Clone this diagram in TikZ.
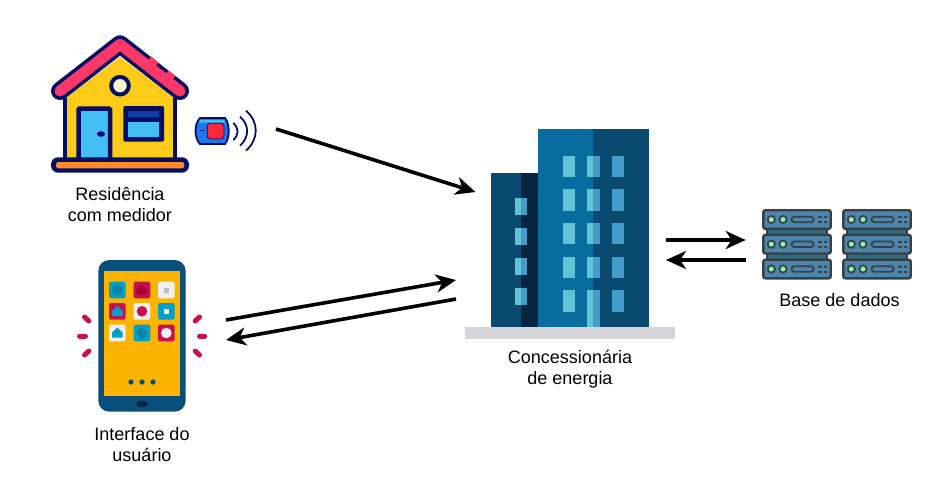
\documentclass[tikz,border=0pt]{standalone}
\usepackage{fontspec}
\setmainfont{Liberation Sans}
\usetikzlibrary{arrows.meta, positioning, calc}
\definecolor{navyline}{RGB}{4,15,100}
\definecolor{roofred}{RGB}{252,56,104}
\definecolor{wallyellow}{RGB}{254,204,24}
\definecolor{skyblue}{RGB}{66,190,245}
\definecolor{deepblue}{RGB}{15,60,165}
\definecolor{creamy}{RGB}{253,247,210}
\definecolor{baseorange}{RGB}{254,138,40}
\definecolor{meterblue}{RGB}{28,120,240}
\definecolor{meterred}{RGB}{250,40,60}
\definecolor{phoneblue}{RGB}{10,79,122}
\definecolor{screenyellow}{RGB}{253,180,0}
\definecolor{appteal}{RGB}{0,160,200}
\definecolor{appdeep}{RGB}{10,130,172}
\definecolor{appred}{RGB}{200,15,80}
\definecolor{appdark}{RGB}{160,5,55}
\definecolor{appwhite}{RGB}{240,240,240}
\definecolor{towerdark}{RGB}{10,74,112}
\definecolor{towerdeep}{RGB}{6,35,63}
\definecolor{towermain}{RGB}{8,109,158}
\definecolor{winlight}{RGB}{98,195,214}
\definecolor{winmid}{RGB}{68,156,203}
\definecolor{groundgrey}{RGB}{213,213,218}
\definecolor{rackblue}{RGB}{74,134,174}
\definecolor{rackdark}{RGB}{46,107,128}
\definecolor{rackline}{RGB}{58,63,68}
\definecolor{ledgreen}{RGB}{134,250,170}
\tikzset{
    caption/.style={align=center,font=\fontsize{18}{21}\selectfont},
    flow/.style={-{Stealth[length=20pt,width=18pt,inset=6pt]},line width=3.6pt,black},
    tick/.style={appred,line width=5pt,line cap=round},
    signal/.style={navyline,line width=1.8pt}
}
\begin{document}
\begin{tikzpicture}[x=1pt,y=-1pt]
    \useasboundingbox (0,0) rectangle (952,491);

    % Casa
    \fill[wallyellow] (63,100) -- (120,57) -- (177,100) -- (177,158) -- (63,158) -- cycle;
    \draw[navyline,line width=4pt] (65,98) -- (65,160) (175,98) -- (175,160);
    \draw[navyline,line width=18pt,line cap=round,line join=round] (60,91) -- (120,44.3) -- (180,91);
    \draw[roofred,line width=11pt,line cap=round,line join=round] (60,91) -- (120,44.3) -- (180,91);
    \draw[roofred,line width=4pt] (150,58) -- (157.3,64) (167.3,72) -- (174,77.5);
    \draw[navyline,line width=4pt,fill=creamy] (120,85.7) circle (8.8);
    \draw[navyline,line width=4.5pt,fill=skyblue,rounded corners=1pt] (78.5,108.5) rectangle (110,160);
    \fill[navyline] (101,134) ellipse (4 and 2.8);
    \fill[navyline,rounded corners=2pt] (123.3,106) rectangle (164,141.7);
    \fill[deepblue] (128.3,111) rectangle (159.3,117);
    \fill[skyblue] (128.3,121.7) rectangle (159.3,137.3);
    \fill[navyline,rounded corners=7pt] (51,157.3) rectangle (189,172.7);
    \fill[baseorange,rounded corners=2.5pt] (56,162) rectangle (184.3,168.3);

    % Medidor
    \draw[navyline,line width=1.8pt,fill=meterblue] (200,118) -- (225,118) .. controls (230,124) and (230,138) .. (225,144) -- (200,144) .. controls (194,138) and (194,124) .. (200,118) -- cycle;
    \fill[skyblue] (200,120) -- (224,120) -- (225,122.5) -- (199,122.5) -- cycle;
    \fill[meterred,rounded corners=3pt,draw=navyline,line width=.8pt] (207.3,123.3) rectangle (224,139);
    \draw[navyline,line width=1.4pt] (200,130.7) -- (204,130.7);
    \draw[signal] (233.3,123) .. controls (239,128) and (239,135) .. (233.3,140);
    \draw[signal] (240,116.7) .. controls (249.5,125) and (249.5,137) .. (240,145.7);
    \draw[signal] (246,110.7) .. controls (259,122) and (259,139) .. (246,150.7);

    % Celular
    \fill[phoneblue,rounded corners=11pt] (98.3,260) rectangle (185.7,411.7);
    \fill[screenyellow] (104,271) rectangle (180,396);
    \fill[phoneblue,rounded corners=1.3pt] (133.3,264) rectangle (146,266.7);
    \fill[phoneblue] (149.3,265.3) circle (1.3);
    \fill[towerdeep,rounded corners=2.5pt] (136.7,401) rectangle (147.3,406.7);
    \foreach \dotx in {131,142,153}
        \fill[phoneblue] (\dotx,382) circle (2.7);
    \foreach \appx/\appy/\appc in {117.3/290/appteal,142/290/appred,166.3/290/appwhite,
                                   117.3/311.3/appred,142/311.3/appwhite,166.3/311.3/appteal,
                                   117.3/333/appwhite,142/333/appteal,166.3/333/appred}
        \fill[\appc,rounded corners=2pt] (\appx-8.3,\appy-8.3) rectangle (\appx+8.3,\appy+8.3);
    \fill[appdeep] (117.3,290) circle (5.5);
    \fill[appdark] (142,284.5) -- (147.3,289.5) -- (147.3,294.5) -- (136.7,294.5) -- (136.7,289.5) -- cycle;
    \fill[lightgray] (163.8,287.5) rectangle (168.8,292.5);
    \fill[appteal] (117.3,305.8) -- (122.6,311) -- (122.6,316) -- (112,316) -- (112,311) -- cycle;
    \fill[appred] (142,311.3) circle (5.3);
    \fill[white] (163.8,308.8) rectangle (168.8,313.8);
    \fill[appteal] (117.3,327.5) -- (122.6,332.5) -- (122.6,337.5) -- (112,337.5) -- (112,332.5) -- cycle;
    \fill[appdeep] (142,333) circle (5.3);
    \fill[appwhite] (166.3,333) circle (5.3);
    \draw[tick] (84.5,317) -- (88.8,321);
    \draw[tick] (79.5,336) -- (85.5,336);
    \draw[tick] (84.5,355) -- (88.8,351);
    \draw[tick] (195.2,321) -- (199.5,317);
    \draw[tick] (199.5,336) -- (204.8,336);
    \draw[tick] (195.2,351) -- (199.5,355);

    % Concessionaria
    \fill[towerdark] (491,173) rectangle (521,326.7);
    \fill[towerdeep] (521,173) rectangle (538,326.7);
    \fill[towermain] (538,129) rectangle (593,326.7);
    \fill[towerdark] (593,129) rectangle (649,326.7);
    \foreach \winy/\winh in {156/21,189.3/21.4,223/21,256.7/21,290.3/21.4} {
        \fill[winlight] (562.7,\winy) rectangle +(12.3,\winh);
        \fill[winlight] (587,\winy) rectangle +(6.3,\winh);
        \fill[winmid] (593.3,\winy) rectangle +(6.4,\winh);
        \fill[winmid] (612,\winy) rectangle +(12,\winh);
    }
    \fill[winlight] (587,311) rectangle (593.3,326.7);
    \fill[winmid] (593.3,311) rectangle (599.7,326.7);
    \foreach \winy in {198,228,258,287.7} {
        \fill[winlight] (514.7,\winy) rectangle +(6.3,17.4);
        \fill[winmid] (521,\winy) rectangle +(6,17.4);
    }
    \fill[groundgrey] (465,326.7) rectangle (675,338.7);

    % Servidores
    \foreach \rackx in {762.3,842.3} {
        \fill[rackdark,draw=rackline,line width=2pt] (\rackx+4.5,228) rectangle (\rackx+65,236);
        \fill[rackdark,draw=rackline,line width=2pt] (\rackx+4.5,253) rectangle (\rackx+65,261);
        \foreach \racky in {219.5,244.2,269} {
            \fill[rackblue,draw=rackline,line width=2.4pt,rounded corners=2pt] (\rackx+1,\racky-9.3) rectangle (\rackx+68.4,\racky+9.3);
            \foreach \ledx in {9,20.7}
                \fill[ledgreen,draw=rackline,line width=1.8pt] (\rackx+\ledx,\racky) circle (3.6);
            \draw[rackline,line width=1.8pt,rounded corners=2.5pt] (\rackx+29.3,\racky-2.7) rectangle (\rackx+51.3,\racky+2.7);
            \foreach \ventx in {57.7,63}
                \foreach \venty in {-2.5,2.5}
                    \fill[rackline] (\rackx+\ventx-1.6,\racky+\venty-1) rectangle +(3.2,2);
        }
    }

    % Textos
    \node[caption] (residencia) at (120,204.5) {Residência\\com medidor};
    \node[caption] (interface) at (142,444.5) {Interface do\\usuário};
    \node[caption] (concessionaria) at (570,369.5) {Concessionária\\de energia};
    \node[caption] (base) at (839.5,300) {Base de dados};

    % Conexoes
    \coordinate (medidorout) at (276,129);
    \coordinate (predioin) at (475.5,192);
    \coordinate (celularout) at (226,320);
    \coordinate (predioa) at (456,280);
    \coordinate (prediob) at (456,299);
    \coordinate (celularin) at (226,340);
    \coordinate (predioc) at (666,240);
    \coordinate (basein) at (745.7,240);
    \coordinate (baseout) at (745.7,260);
    \coordinate (prediod) at (666,260);
    \draw[flow] (medidorout) -- (predioin);
    \draw[flow] (celularout) -- (predioa);
    \draw[flow] (prediob) -- (celularin);
    \draw[flow] (predioc) -- (basein);
    \draw[flow] (baseout) -- (prediod);
\end{tikzpicture}
\end{document}
